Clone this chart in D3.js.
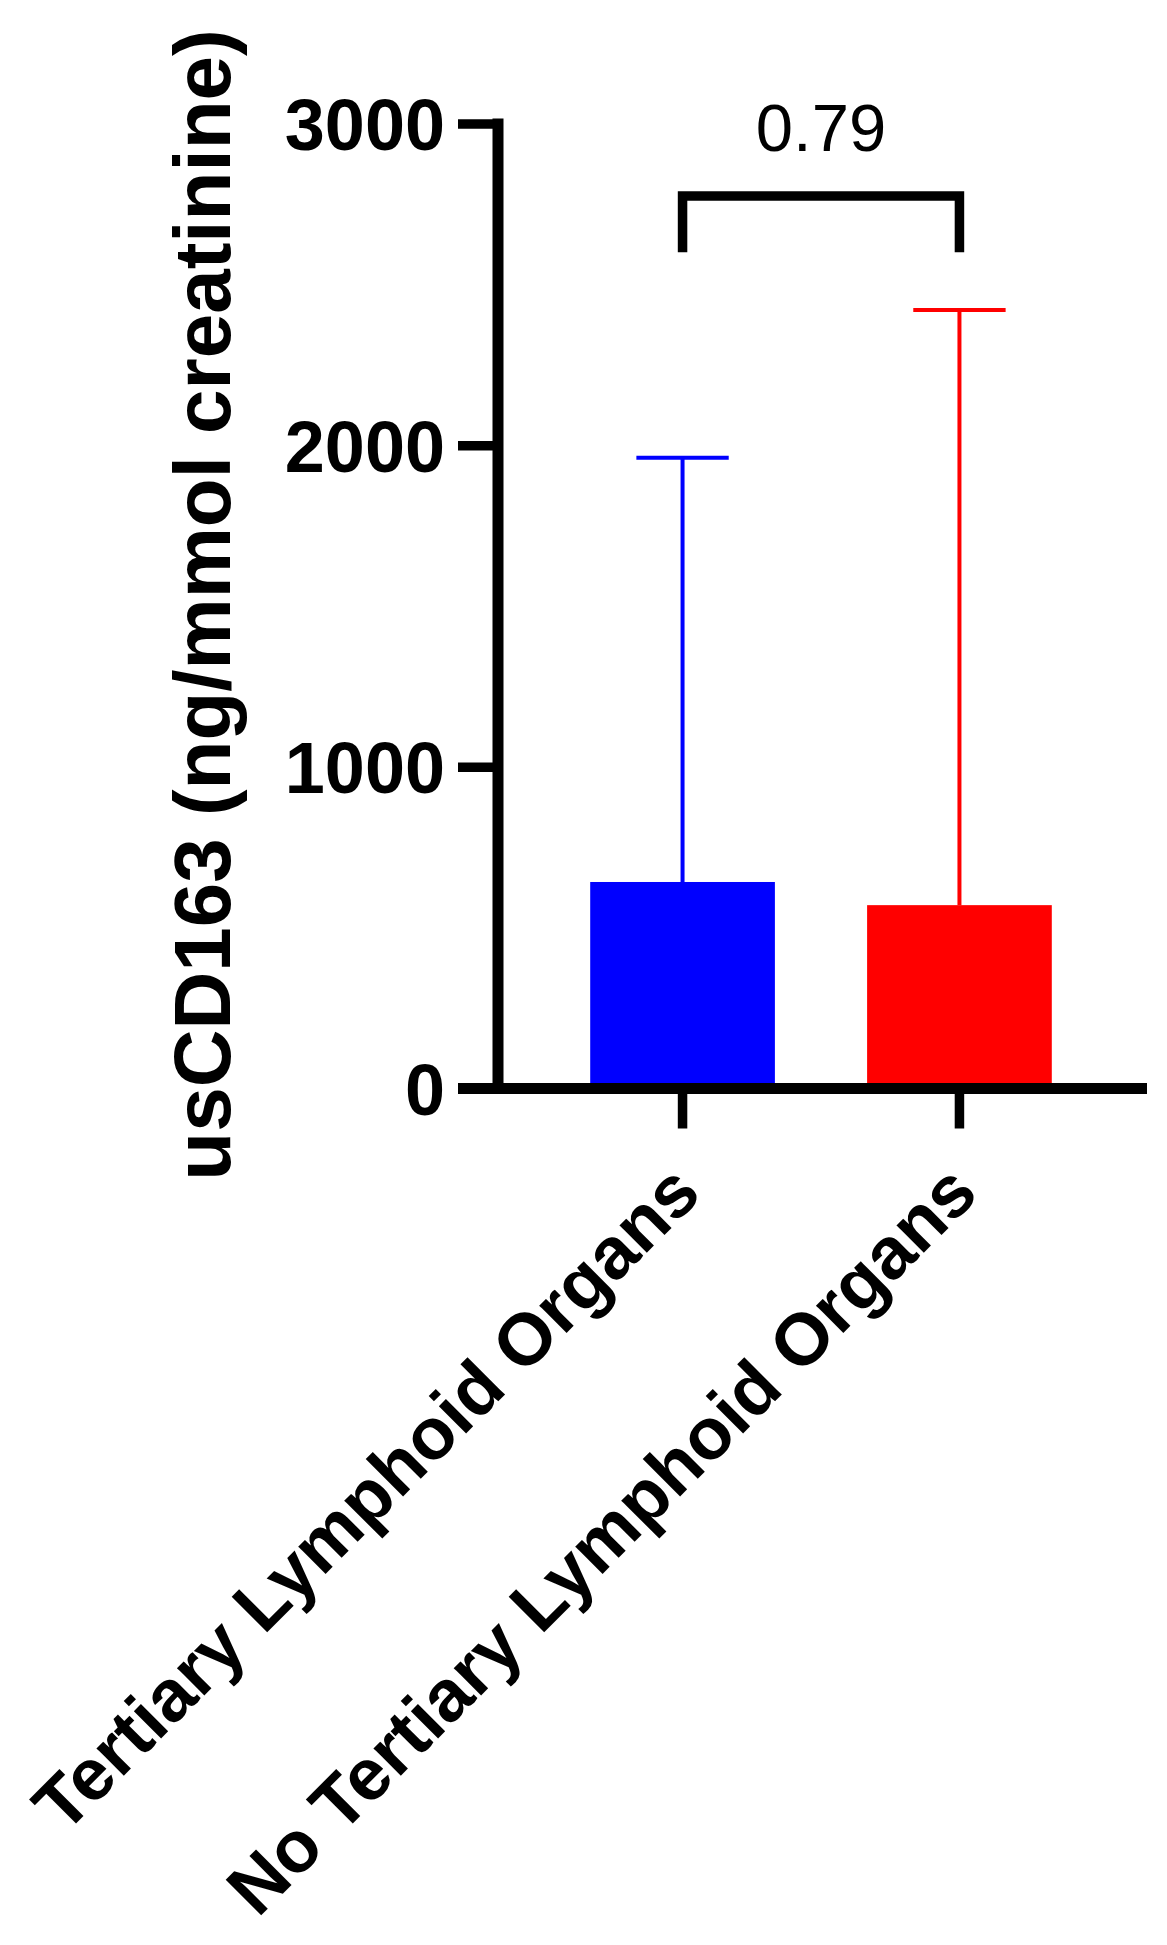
<!DOCTYPE html>
<html>
<head>
<meta charset="utf-8">
<script src="https://cdn.jsdelivr.net/npm/d3@7"></script>
<style>
  html, body { margin: 0; padding: 0; background: #fff; }
  svg { display: block; }
  text { font-family: Arial, "Liberation Sans", sans-serif; }
</style>
</head>
<body>
<script>
// ---- data ----
const categories = ["Tertiary Lymphoid Organs", "No Tertiary Lymphoid Organs"];
const means = [642, 570];
const upperErrors = [1961, 2420];
const barColors = ["#0000ff", "#ff0000"];
const yTicks = [0, 1000, 2000, 3000];
const yTitle = "usCD163 (ng/mmol creatinine)";
const pValueLabel = "0.79";
const bracketTop = 2775, bracketLegBottom = 2600, pLabelValue = 2913;

// ---- layout ----
const W = 1167, H = 1945;
const svg = d3.select("body").append("svg").attr("width", W).attr("height", H);
svg.append("rect").attr("width", W).attr("height", H).attr("fill", "#fff");

const axisX = 498, axisY = 1088.5, axisRight = 1147;
const y = d3.scaleLinear().domain([0, 3000]).range([axisY, 123.5]);
const x = d3.scaleBand().domain(categories).range([axisX, 1144]).padding(0.333);

const data = categories.map((c, i) => ({ c, mean: means[i], up: upperErrors[i], color: barColors[i] }));

// bars
svg.selectAll("rect.bar").data(data).enter().append("rect")
  .attr("class", "bar")
  .attr("x", d => x(d.c))
  .attr("width", x.bandwidth())
  .attr("y", d => y(d.mean))
  .attr("height", d => y(0) - y(d.mean))
  .attr("fill", d => d.color);

// error bars (upward)
const eb = svg.selectAll("g.err").data(data).enter().append("g").attr("class", "err");
eb.append("line")
  .attr("x1", d => x(d.c) + x.bandwidth() / 2).attr("x2", d => x(d.c) + x.bandwidth() / 2)
  .attr("y1", d => y(d.mean)).attr("y2", d => y(d.up))
  .attr("stroke", d => d.color).attr("stroke-width", 4);
eb.append("line")
  .attr("x1", d => x(d.c) + x.bandwidth() / 4).attr("x2", d => x(d.c) + x.bandwidth() * 3 / 4)
  .attr("y1", d => y(d.up)).attr("y2", d => y(d.up))
  .attr("stroke", d => d.color).attr("stroke-width", 4);

// y axis via d3.axisLeft
const yAxis = d3.axisLeft(y).tickValues(yTicks).tickSize(40).tickPadding(13).tickFormat(d3.format("d"));
const gy = svg.append("g").attr("transform", `translate(${axisX},0)`).call(yAxis);
gy.select(".domain").remove();
gy.selectAll(".tick line").attr("stroke", "#000").attr("stroke-width", 9.5);
gy.selectAll(".tick text")
  .attr("fill", "#000")
  .style("font-size", "72px").style("font-weight", "bold")
  .attr("dy", "0.36em");
// vertical axis line
svg.append("line")
  .attr("x1", axisX).attr("x2", axisX)
  .attr("y1", y(3000) - 5).attr("y2", axisY + 5.5)
  .attr("stroke", "#000").attr("stroke-width", 11);

// x axis
svg.append("line")
  .attr("x1", axisX - 40).attr("x2", axisRight)
  .attr("y1", axisY).attr("y2", axisY)
  .attr("stroke", "#000").attr("stroke-width", 11);
const xAxis = d3.axisBottom(x).tickSize(40).tickFormat("");
const gx = svg.append("g").attr("transform", `translate(0,${axisY})`).call(xAxis);
gx.select(".domain").remove();
gx.selectAll(".tick line").attr("stroke", "#000").attr("stroke-width", 9.5);

// x labels rotated -45
svg.selectAll("text.xlab").data(categories).enter().append("text")
  .attr("class", "xlab")
  .attr("transform", d => `translate(${x(d) + x.bandwidth() / 2 + 21},1196) rotate(-45)`)
  .attr("text-anchor", "end")
  .style("font-size", "73px").style("font-weight", "bold")
  .attr("fill", "#000")
  .text(d => d);

// y title
svg.append("text")
  .attr("transform", `translate(230,${(y(0) + y(3000)) / 2 - 1}) rotate(-90)`)
  .attr("text-anchor", "middle")
  .style("font-size", "80px").style("font-weight", "bold")
  .attr("fill", "#000")
  .text(yTitle);

// significance bracket
const cx0 = x(categories[0]) + x.bandwidth() / 2;
const cx1 = x(categories[1]) + x.bandwidth() / 2;
svg.append("path")
  .attr("d", `M${cx0},${y(bracketLegBottom)} L${cx0},${y(bracketTop)} L${cx1},${y(bracketTop)} L${cx1},${y(bracketLegBottom)}`)
  .attr("fill", "none").attr("stroke", "#000").attr("stroke-width", 9.5)
  .attr("stroke-linejoin", "miter");
svg.append("text")
  .attr("x", (cx0 + cx1) / 2).attr("y", y(pLabelValue))
  .attr("text-anchor", "middle")
  .style("font-size", "67px")
  .attr("fill", "#000")
  .text(pValueLabel);
</script>
</body>
</html>
